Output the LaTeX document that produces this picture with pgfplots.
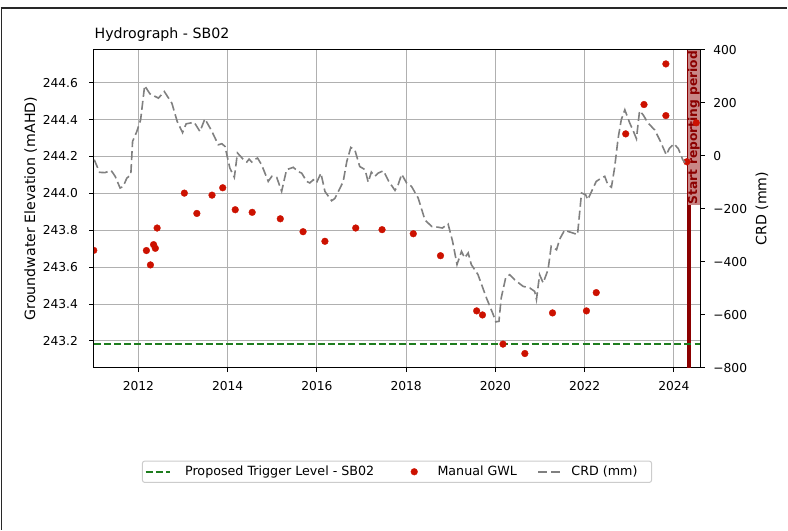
\documentclass[border=0pt]{standalone}
\usepackage{fontspec}
\setmainfont{DejaVu Sans}
\usepackage{pgfplots}
\pgfplotsset{compat=1.18}
\definecolor{gwlred}{RGB}{204,17,0}
\definecolor{trig}{RGB}{30,125,30}
\definecolor{crdgray}{RGB}{128,128,128}
\definecolor{dred}{RGB}{139,0,0}
\definecolor{boxred}{RGB}{200,135,135}
\definecolor{gridgray}{RGB}{176,176,176}
\definecolor{leggray}{RGB}{204,204,204}
\definecolor{framegray}{RGB}{40,40,40}
\newcommand{\tickfont}{\fontsize{12.3}{14}\selectfont}
\newcommand{\legfont}{\fontsize{12.7}{15}\selectfont}
\newcommand{\labfont}{\fontsize{14.2}{17}\selectfont}
\pgfplotsset{
  trigstyle/.style={trig, line width=1.8pt, dash pattern=on 7pt off 3.2pt},
  gwlstyle/.style={only marks, mark=*, mark size=3.4pt, mark options={fill=gwlred, draw=gwlred, line width=0.3pt, solid}},
  crdstyle/.style={crdgray, line width=1.6pt, dash pattern=on 9pt off 4pt},
  lineleg/.style={legend image code/.code={\draw[##1] (0pt,0pt) -- (24.6pt,0pt);}},
  markleg/.style={legend image code/.code={\path[draw=none,fill=none] (0pt,0pt) -- (24.6pt,0pt); \draw[##1] plot coordinates {(12.3pt,0pt)};}},
}
\begin{document}
\begin{tikzpicture}[x=1pt,y=1pt]
\path (0,0) rectangle (788,531);
\draw[line width=1.2pt, framegray] (0,523) -- (788,523);
\draw[line width=1.2pt, framegray] (1,523) -- (1,0);

\begin{axis}[
  at={(93.3pt,162.7pt)}, anchor=south west,
  width=607.4pt, height=318.6pt, scale only axis,
  xmin=2011.0, xmax=2024.59,
  ymin=243.055, ymax=244.7785,
  xtick={2012,2014,2016,2018,2020,2022,2024},
  xticklabels={2012,2014,2016,2018,2020,2022,2024},
  ytick={243.2,243.4,243.6,243.8,244.0,244.2,244.4,244.6},
  yticklabels={243.2,243.4,243.6,243.8,244.0,244.2,244.4,244.6},
  grid=major, grid style={gridgray, line width=1pt},
  axis line style={black, line width=1.1pt},
  tick align=outside, xtick pos=bottom, ytick pos=left,
  major tick length=4.3pt,
  tick style={black, line width=1pt},
  tick label style={font=\tickfont},
  yticklabel shift=8pt,
  xticklabel shift=5.5pt,
  every axis y label/.style={at={(rel axis cs:-0.1042,0.5)}, rotate=90, anchor=center, font=\labfont},
  ylabel={Groundwater Elevation (mAHD)},
  every axis title/.style={at={(rel axis cs:0,1)}, anchor=base west, inner xsep=0pt, xshift=0.7pt, yshift=10.7pt, font=\labfont},
  title={Hydrograph - SB02},
  clip marker paths=true,
]
\addplot[dred, line width=3.2pt, forget plot] coordinates {(2024.34,243.055) (2024.34,244.7785)};
\node[rotate=90, anchor=north east, fill=boxred, text=dred, font=\bfseries\tickfont, inner xsep=1pt, inner ysep=0.3pt] at (axis cs:2024.30,244.7785) {Start reporting period};
\addplot[trigstyle, forget plot] coordinates {(2011.0,243.185) (2024.59,243.185)};
\addplot[gwlstyle, forget plot] table {
2011.00 243.691
2012.18 243.690
2012.27 243.612
2012.34 243.722
2012.38 243.702
2012.42 243.812
2013.03 244.001
2013.31 243.891
2013.65 243.990
2013.89 244.030
2014.17 243.911
2014.55 243.897
2015.18 243.862
2015.69 243.792
2016.18 243.740
2016.87 243.812
2017.46 243.803
2018.16 243.781
2018.77 243.662
2019.58 243.363
2019.71 243.341
2020.17 243.183
2020.66 243.132
2021.28 243.352
2022.04 243.363
2022.26 243.462
2022.92 244.322
2023.33 244.481
2023.82 244.701
2023.82 244.421
2024.29 244.171
2024.50 244.382
};
\end{axis}

\begin{axis}[
  at={(93.3pt,162.7pt)}, anchor=south west,
  width=607.4pt, height=318.6pt, scale only axis,
  xmin=2011.0, xmax=2024.59,
  ymin=-800, ymax=400,
  axis x line=none, axis y line*=right,
  ytick={-800,-600,-400,-200,0,200,400},
  yticklabels={−800,−600,−400,−200,0,200,400},
  axis line style={black, line width=1.1pt},
  tick align=outside, major tick length=4.3pt,
  tick style={black, line width=1pt},
  tick label style={font=\tickfont},
  yticklabel shift=5.3pt,
  every axis y label/.style={at={(rel axis cs:1.1018,0.5)}, rotate=90, anchor=center, font=\labfont},
  ylabel={CRD (mm)},
  legend columns=3,
  lineleg,
  legend style={at={(0.5,-0.327)}, anchor=center, draw=leggray, line width=1pt, rounded corners=2pt,
    font=\legfont, inner xsep=2.3pt, inner ysep=3pt,
    /tikz/column 1/.style={column sep=12pt},
    /tikz/column 2/.style={column sep=25.7pt},
    /tikz/column 3/.style={column sep=9pt},
    /tikz/column 4/.style={column sep=18.3pt},
    /tikz/column 5/.style={column sep=6pt}},
]
\addlegendimage{trigstyle}
\addlegendentry{\legfont Proposed Trigger Level - SB02}
\addlegendimage{gwlstyle, markleg}
\addlegendentry{\legfont Manual GWL}
\addplot[crdstyle] table {
2011.01 -15
2011.13 -63
2011.25 -64
2011.39 -56
2011.48 -78
2011.59 -122
2011.66 -116
2011.74 -85
2011.83 -72
2011.87 54
2011.96 89
2012.05 135
2012.14 264
2012.26 233
2012.45 217
2012.58 242
2012.75 198
2012.87 129
2012.99 87
2013.07 120
2013.16 123
2013.25 126
2013.38 91
2013.49 139
2013.64 94
2013.79 41
2013.87 45
2013.94 35
2014.05 -47
2014.15 -82
2014.22 10
2014.34 -12
2014.43 -24
2014.48 -13
2014.54 -24
2014.60 -15
2014.67 -9
2014.76 -34
2014.91 -97
2014.99 -78
2015.10 -82
2015.21 -135
2015.32 -53
2015.47 -44
2015.58 -60
2015.66 -66
2015.77 -97
2015.84 -103
2015.92 -91
2015.99 -103
2016.09 -66
2016.18 -135
2016.33 -170
2016.40 -162
2016.52 -122
2016.59 -97
2016.67 -22
2016.76 31
2016.85 22
2016.96 -41
2017.08 -53
2017.15 -100
2017.22 -62
2017.30 -78
2017.37 -66
2017.49 -57
2017.61 -97
2017.75 -131
2017.82 -110
2017.90 -70
2018.01 -103
2018.12 -116
2018.27 -160
2018.42 -242
2018.57 -267
2018.72 -270
2018.81 -273
2018.94 -258
2019.04 -323
2019.14 -411
2019.24 -361
2019.31 -386
2019.39 -367
2019.46 -411
2019.61 -449
2019.80 -537
2019.95 -599
2020.01 -627
2020.08 -625
2020.13 -537
2020.23 -461
2020.32 -449
2020.43 -468
2020.62 -493
2020.77 -499
2020.88 -512
2020.92 -543
2020.99 -449
2021.07 -480
2021.18 -430
2021.25 -342
2021.37 -355
2021.44 -315
2021.55 -281
2021.63 -286
2021.74 -292
2021.84 -298
2021.93 -141
2022.02 -147
2022.07 -166
2022.19 -122
2022.26 -97
2022.37 -85
2022.45 -78
2022.52 -110
2022.60 -119
2022.67 -47
2022.75 66
2022.82 135
2022.90 173
2023.01 123
2023.08 97
2023.16 64
2023.23 169
2023.31 154
2023.42 123
2023.57 97
2023.68 60
2023.83 3
2023.90 28
2024.00 45
2024.10 26
2024.20 -16
2024.25 -26
};
\addlegendentry{\legfont CRD (mm)\rule{9.7pt}{0pt}}
\end{axis}
\end{tikzpicture}
\end{document}
